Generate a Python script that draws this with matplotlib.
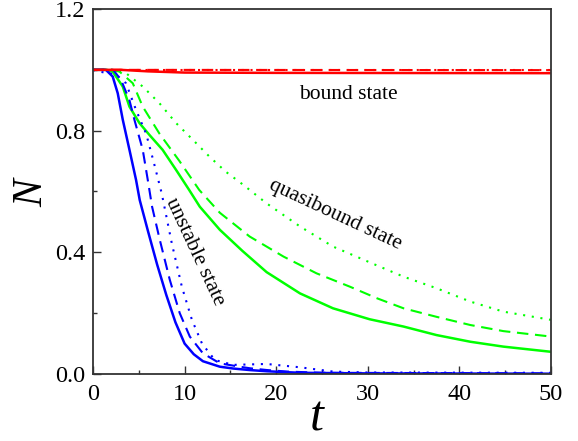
import matplotlib
matplotlib.use("Agg")
import matplotlib.pyplot as plt
from matplotlib.ticker import MultipleLocator

plt.rcParams['font.family'] = ['Liberation Serif', 'DejaVu Serif']

# Survival probability N(t) for the three regimes
# bound state (red)
t_red_solid = [0, 3, 6, 10, 20, 50]
n_red_solid = [1.0, 1.0, 0.995, 0.991, 0.990, 0.989]
t_red_dash = [0, 50]
n_red_dash = [1.0, 0.999]
t_red_dot = [0, 50]
n_red_dot = [1.0, 1.0]

# unstable state (blue)
t_blue_solid = [0, 1.4, 2.15, 2.7, 3.25, 3.98, 4.7, 5.1, 6.0, 7.0, 8.0, 9.0,
                10.0, 11.0, 12.0, 13.85, 15.3, 17.1, 19.0, 22.6, 30, 50]
n_blue_solid = [1.0, 1.0, 0.978, 0.923, 0.836, 0.737, 0.638, 0.572, 0.47, 0.36,
                0.26, 0.17, 0.10, 0.065, 0.042, 0.024, 0.018, 0.013, 0.009, 0.004,
                0.002, 0.001]
t_blue_dash = [0, 2.2, 3.06, 3.98, 4.52, 5.43, 5.98, 6.45, 7.3, 8.38, 9.47, 10.57,
               12.0, 13.85, 16.0, 17.1, 19.0, 21.2, 25, 50]
n_blue_dash = [1.0, 1.0, 0.967, 0.90, 0.836, 0.737, 0.638, 0.55, 0.44, 0.31, 0.20,
               0.123, 0.068, 0.035, 0.024, 0.019, 0.013, 0.008, 0.004, 0.002]
t_blue_dot = [0, 0.5, 1.5, 2.5, 3.6, 4.7, 5.8, 6.6, 7.5, 8.6, 9.7, 10.8, 11.9,
              13.3, 15.3, 18.95, 22.6, 26.2, 30, 50]
n_blue_dot = [1.0, 0.995, 0.99, 0.985, 0.956, 0.868, 0.79, 0.70, 0.594, 0.43, 0.287,
              0.178, 0.10, 0.046, 0.03, 0.033, 0.022, 0.008, 0.005, 0.004]

# quasibound state (green)
t_green_solid = [0, 1.5, 2.15, 3.25, 3.98, 5.07, 6.16, 7.6, 9.07, 10.5, 11.66, 13.85,
                 16.3, 18.95, 22.6, 26.2, 30.2, 33.9, 37.5, 41.2, 44.8, 50]
n_green_solid = [1.0, 1.0, 0.994, 0.945, 0.879, 0.825, 0.786, 0.737, 0.671, 0.605,
                 0.55, 0.474, 0.405, 0.335, 0.265, 0.216, 0.18, 0.156, 0.128, 0.106,
                 0.09, 0.073]
t_green_dash = [0, 2.0, 2.9, 4.34, 5.43, 7.26, 9.44, 11.6, 13.85, 17.1, 20.8, 24.4,
                28.05, 31.0, 33.9, 37.5, 41.2, 44.8, 50]
n_green_dash = [1.0, 1.0, 0.994, 0.956, 0.879, 0.79, 0.70, 0.605, 0.53, 0.452, 0.386,
                0.331, 0.287, 0.249, 0.216, 0.188, 0.161, 0.141, 0.123]
t_green_dot = [0, 2.5, 3.6, 5.43, 7.26, 9.07, 10.9, 12.7, 14.5, 16.4, 18.95, 22.6,
               26.2, 30.6, 33.9, 37.5, 41.2, 44.8, 50]
n_green_dot = [1.0, 1.0, 0.989, 0.945, 0.89, 0.825, 0.77, 0.715, 0.665, 0.622, 0.561,
               0.485, 0.419, 0.362, 0.32, 0.282, 0.238, 0.205, 0.178]

x_ticks = [0, 10, 20, 30, 40, 50]
y_ticks = [0.0, 0.4, 0.8, 1.2]
y_tick_labels = ['0.0', '0.4', '0.8', '1.2']

RED, BLUE, GREEN = '#ff0000', '#0000ff', '#00ff00'
LW = 1.5
DASH = (0, (5.5, 3.2))
DOT = (0, (1, 3.2))

fig = plt.figure(figsize=(5.78, 4.41), dpi=100)
ax = fig.add_axes([93 / 578, 1 - 374 / 441, (551 - 93) / 578, (374 - 9) / 441])

ax.plot(t_green_dot, n_green_dot, color=GREEN, lw=LW, ls=DOT)
ax.plot(t_green_dash, n_green_dash, color=GREEN, lw=LW, ls=DASH)
ax.plot(t_green_solid, n_green_solid, color=GREEN, lw=LW + 0.3)
ax.plot(t_blue_dot, n_blue_dot, color=BLUE, lw=LW, ls=DOT)
ax.plot(t_blue_dash, n_blue_dash, color=BLUE, lw=LW, ls=DASH)
ax.plot(t_blue_solid, n_blue_solid, color=BLUE, lw=LW + 0.3)
ax.plot(t_red_dot, n_red_dot, color=RED, lw=LW, ls=DOT)
ax.plot(t_red_dash, n_red_dash, color=RED, lw=LW, ls=DASH)
ax.plot(t_red_solid, n_red_solid, color=RED, lw=LW + 0.3)

ax.set_xlim(0, 50)
ax.set_ylim(0, 1.2)
ax.set_xticks(x_ticks)
ax.set_yticks(y_ticks)
ax.set_yticklabels(y_tick_labels)
ax.xaxis.set_minor_locator(MultipleLocator(5))
ax.yaxis.set_minor_locator(MultipleLocator(0.2))
ax.tick_params(which='both', direction='in', top=False, right=False,
               labelsize=17.5, width=1.0, color='#333333')
ax.tick_params(which='major', length=6)
ax.tick_params(which='minor', length=3)
ax.tick_params(axis='x', pad=7)
ax.tick_params(axis='y', pad=5.5)
for s in ax.spines.values():
    s.set_linewidth(1.3)
    s.set_color('#333333')

# axis titles
fig.text(32 / 578, 1 - 193 / 441, 'N', fontsize=30, fontstyle='italic',
         rotation=90, ha='center', va='center')
fig.text(317 / 578, 1 - 418 / 441, 't', fontsize=36, fontstyle='italic',
         ha='center', va='center')

ax.text(27.9, 0.918, 'bound state', fontsize=15.5, ha='center', va='center')
ax.text(26.4, 0.523, 'quasibound state', fontsize=15.5, ha='center', va='center',
        rotation=-25, rotation_mode='anchor')
ax.text(11.1, 0.40, 'unstable state', fontsize=15.5, ha='center', va='center',
        rotation=-65, rotation_mode='anchor')

fig.savefig('out.png', dpi=100)
